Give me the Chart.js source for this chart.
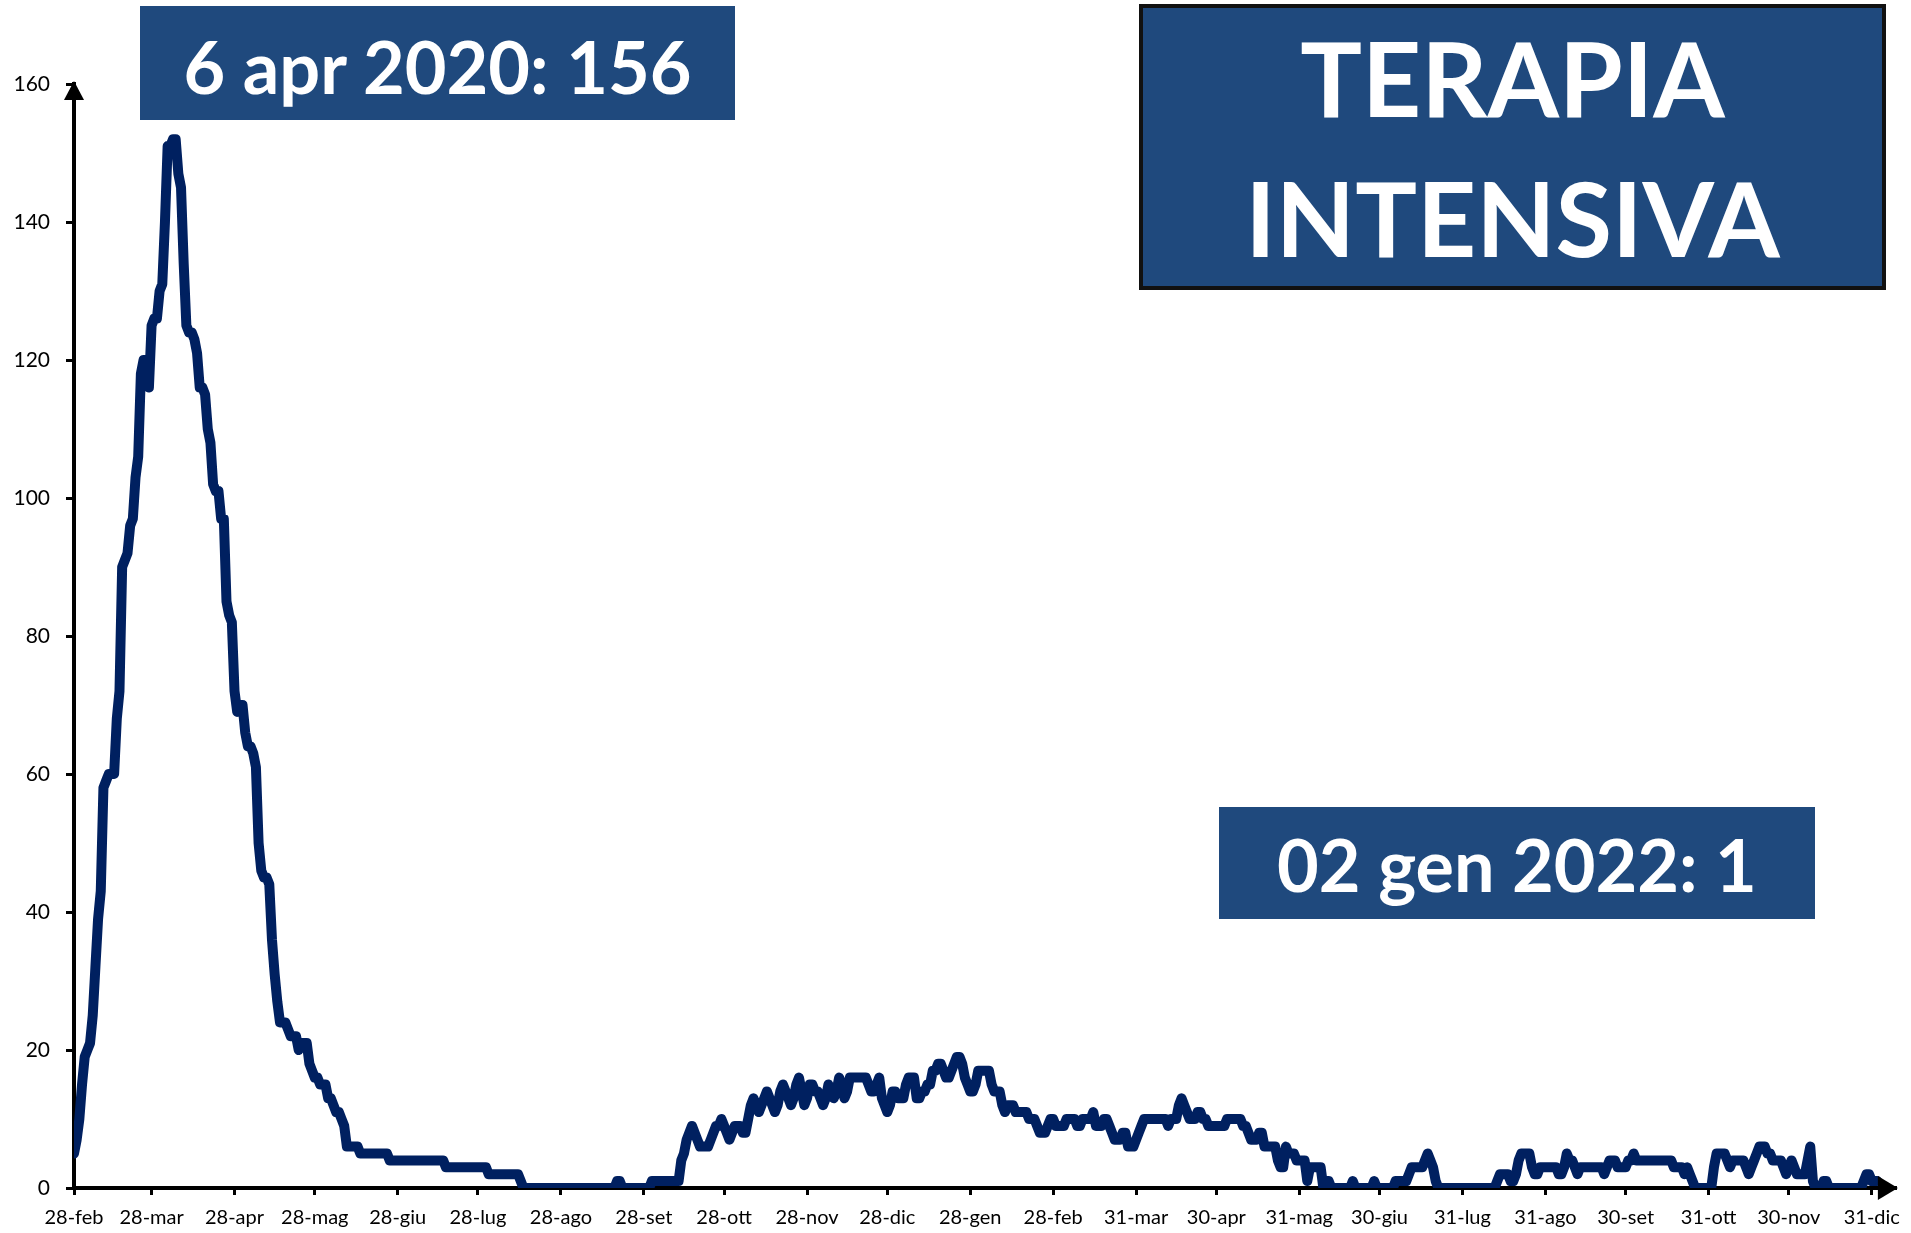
<!DOCTYPE html>
<html>
<head>
<meta charset="utf-8">
<script src="https://cdn.jsdelivr.net/npm/chart.js@4/dist/chart.umd.min.js"></script>
<style>
  html, body { margin: 0; padding: 0; background: #fff; overflow: hidden; }
  #wrap { position: relative; width: 1911px; height: 1233px; }
  canvas { position: absolute; left: 0; top: 0; }
  .box {
    position: absolute; box-sizing: border-box;
    background: #1F497D; color: #fff;
    font-family: Lato, sans-serif; font-weight: 700;
    display: flex; align-items: center; justify-content: center;
    white-space: nowrap;
  }
  #peak { left: 140px; top: 6px; width: 595px; height: 114px; font-size: 72px; padding-top: 6px; }
  #last { left: 1219px; top: 807px; width: 596px; height: 112px; font-size: 72px; padding-top: 2px; }
  #title {
    left: 1139px; top: 4px; width: 747px; height: 286px;
    border: 4px solid #111; font-size: 103px; line-height: 140px;
    text-align: center; flex-direction: column;
  }
</style>
</head>
<body>
<div id="wrap">
  <canvas id="chart" width="1911" height="1233"></canvas>
  <div class="box" id="peak">6 apr 2020: 156</div>
  <div class="box" id="title"><div>TERAPIA</div><div>INTENSIVA</div></div>
  <div class="box" id="last">02 gen 2022: 1</div>
</div>
<script>
// daily values from 28 feb 2020
const startDate = '2020-02-28';

const values2020 = [
  5, 7,
  10, 15, 19, 20, 21, 25, 32, 39, 43, 58, 59, 60, 60, 60, 68, 72, 90, 91, 92, 96, 97, 103, 106, 118, 120, 120, 116, 125, 126, 126, 130,
  131, 140, 151, 151, 152, 152, 147, 145, 134, 125, 124, 124, 123, 121, 116, 116, 115, 110, 108, 102, 101, 101, 97, 97, 85, 83, 82, 72, 69, 70,
  70, 66, 64, 64, 63, 61, 50, 46, 45, 45, 44, 36, 31, 27, 24, 24, 24, 23, 22, 22, 22, 20, 21, 21, 21, 18, 17, 16, 16, 15, 15,
  15, 13, 13, 12, 11, 11, 10, 9, 6, 6, 6, 6, 6, 5, 5, 5, 5, 5, 5, 5, 5, 5, 5, 5, 4, 4, 4, 4, 4, 4,
  4, 4, 4, 4, 4, 4, 4, 4, 4, 4, 4, 4, 4, 4, 4, 3, 3, 3, 3, 3, 3, 3, 3, 3, 3, 3, 3, 3, 3, 3, 3,
  2, 2, 2, 2, 2, 2, 2, 2, 2, 2, 2, 2, 1, 0, 0, 0, 0, 0, 0, 0, 0, 0, 0, 0, 0, 0, 0, 0, 0, 0, 0,
  0, 0, 0, 0, 0, 0, 0, 0, 0, 0, 0, 0, 0, 0, 0, 0, 0, 1, 1, 0, 0, 0, 0, 0, 0, 0, 0, 0, 0, 0,
  1, 1, 1, 1, 1, 1, 1, 1, 1, 1, 1, 4, 5, 7, 8, 9, 8, 7, 6, 6, 6, 6, 7, 8, 9, 9, 10, 9, 8, 7, 8,
  9, 9, 9, 8, 8, 10, 12, 13, 12, 11, 12, 13, 14, 13, 12, 11, 12, 14, 15, 14, 13, 12, 13, 15, 16, 14, 12, 13, 15, 15,
  14, 14, 13, 12, 13, 15, 14, 13, 14, 16, 15, 13, 14, 16, 16, 16, 16, 16, 16, 16, 15, 14, 14, 15, 16, 13, 12, 11, 12, 14, 14
];

const values2021 = [
  13, 13, 13, 15, 16, 16, 16, 13, 13, 14, 14, 15, 15, 17, 17, 18, 18, 17, 16, 16, 17, 18, 19, 19, 18, 16, 15, 14, 14, 15, 17,
  17, 17, 17, 17, 15, 14, 14, 14, 12, 11, 12, 12, 12, 11, 11, 11, 11, 11, 10, 10, 10, 9, 8, 8, 8, 9, 10, 10,
  9, 9, 9, 9, 10, 10, 10, 10, 9, 9, 10, 10, 10, 10, 11, 9, 9, 9, 10, 10, 9, 8, 7, 7, 7, 8, 8, 6, 6, 6, 7,
  8, 9, 10, 10, 10, 10, 10, 10, 10, 10, 10, 9, 10, 10, 10, 12, 13, 12, 11, 10, 10, 10, 11, 11, 10, 10, 9, 9, 9, 9,
  9, 9, 9, 10, 10, 10, 10, 10, 10, 9, 9, 8, 7, 7, 7, 8, 8, 6, 6, 6, 6, 6, 4, 3, 3, 6, 5, 5, 5, 4, 4,
  4, 4, 1, 3, 3, 3, 3, 3, 0, 1, 1, 0, 0, 0, 0, 0, 0, 0, 0, 1, 0, 0, 0, 0, 0, 0, 0, 1, 0, 0,
  0, 0, 0, 0, 0, 1, 1, 1, 1, 1, 2, 3, 3, 3, 3, 3, 4, 5, 4, 3, 1, 0, 0, 0, 0, 0, 0, 0, 0, 0, 0,
  0, 0, 0, 0, 0, 0, 0, 0, 0, 0, 0, 0, 1, 2, 2, 2, 2, 1, 1, 2, 4, 5, 5, 5, 5, 3, 2, 2, 3, 3, 3,
  3, 3, 3, 3, 2, 2, 3, 5, 4, 4, 3, 2, 3, 3, 3, 3, 3, 3, 3, 3, 3, 2, 3, 4, 4, 4, 3, 3, 3, 3,
  4, 4, 5, 4, 4, 4, 4, 4, 4, 4, 4, 4, 4, 4, 4, 4, 4, 3, 3, 3, 3, 2, 3, 2, 1, 0, 0, 0, 0, 0, 0,
  0, 3, 5, 5, 5, 5, 4, 3, 4, 4, 4, 4, 4, 3, 2, 3, 4, 5, 6, 6, 6, 5, 5, 4, 4, 4, 4, 3, 2, 3,
  4, 3, 2, 2, 2, 2, 4, 6, 1, 0, 0, 0, 1, 1, 0, 0, 0, 0, 0, 0, 0, 0, 0, 0, 0, 0, 0, 1, 2, 2, 1,
  1, 1
];

const tickDates = ['2020-02-28', '2020-03-28', '2020-04-28', '2020-05-28', '2020-06-28', '2020-07-28',
  '2020-08-28', '2020-09-28', '2020-10-28', '2020-11-28', '2020-12-28', '2021-01-28', '2021-02-28',
  '2021-03-31', '2021-04-30', '2021-05-31', '2021-06-30', '2021-07-31', '2021-08-31', '2021-09-30',
  '2021-10-31', '2021-11-30', '2021-12-31'];
const tickLabels = ['28-feb', '28-mar', '28-apr', '28-mag', '28-giu', '28-lug', '28-ago', '28-set',
  '28-ott', '28-nov', '28-dic', '28-gen', '28-feb', '31-mar', '30-apr', '31-mag', '30-giu', '31-lug',
  '31-ago', '30-set', '31-ott', '30-nov', '31-dic'];

const yTicks = [0, 20, 40, 60, 80, 100, 120, 140, 160];

const dayMs = 86400000;
const t0 = Date.parse(startDate);
const tickDays = tickDates.map(d => Math.round((Date.parse(d) - t0) / dayMs));
const values = values2020.concat(values2021);
const points = values.map((v, i) => ({ x: i, y: v }));

// arrow heads at the end of both axes
const axisArrows = {
  id: 'axisArrows',
  afterDraw(chart) {
    const { ctx, chartArea } = chart;
    ctx.save();
    ctx.fillStyle = '#000';
    ctx.beginPath();
    ctx.moveTo(chartArea.left, chartArea.top - 3);
    ctx.lineTo(chartArea.left - 10, chartArea.top + 16);
    ctx.lineTo(chartArea.left + 10, chartArea.top + 16);
    ctx.closePath();
    ctx.fill();
    ctx.beginPath();
    ctx.moveTo(chartArea.right + 2, chartArea.bottom);
    ctx.lineTo(chartArea.right - 18, chartArea.bottom - 12);
    ctx.lineTo(chartArea.right - 18, chartArea.bottom + 12);
    ctx.closePath();
    ctx.fill();
    ctx.restore();
  }
};

Chart.defaults.font.family = 'Lato';
Chart.defaults.color = '#000';

new Chart(document.getElementById('chart').getContext('2d'), {
  type: 'line',
  data: {
    datasets: [{
      data: points,
      borderColor: '#002060',
      borderWidth: 10,
      pointRadius: 0,
      tension: 0,
      borderJoinStyle: 'round',
      borderCapStyle: 'round'
    }]
  },
  options: {
    responsive: false,
    animation: false,
    devicePixelRatio: 1,
    layout: { padding: { left: 0, right: 10, top: 84, bottom: 0 } },
    plugins: { legend: { display: false }, tooltip: { enabled: false } },
    scales: {
      x: {
        type: 'linear',
        min: 0,
        max: 681,
        afterBuildTicks(scale) { scale.ticks = tickDays.map(v => ({ value: v })); },
        afterFit(scale) { scale.height = 45; },
        ticks: {
          autoSkip: false, maxRotation: 0, padding: 11,
          font: { size: 20 },
          callback: (v, i) => tickLabels[i]
        },
        grid: { drawOnChartArea: false, color: '#000', lineWidth: 3, tickLength: 7 },
        border: { color: '#000', width: 4 }
      },
      y: {
        min: 0,
        max: 160,
        afterBuildTicks(scale) { scale.ticks = yTicks.map(v => ({ value: v })); },
        afterFit(scale) { scale.width = 74; },
        ticks: { padding: 16, font: { size: 21 } },
        grid: { drawOnChartArea: false, color: '#000', lineWidth: 3, tickLength: 8 },
        border: { color: '#000', width: 4 }
      }
    }
  },
  plugins: [axisArrows]
});
</script>
</body>
</html>
